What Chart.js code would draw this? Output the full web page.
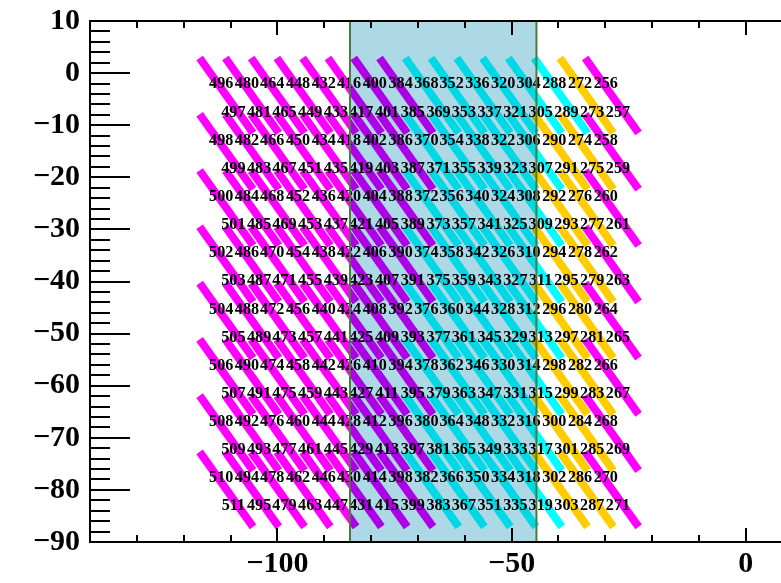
<!DOCTYPE html>
<html>
<head>
<meta charset="utf-8">
<script src="https://cdn.jsdelivr.net/npm/chart.js@4.4.0/dist/chart.umd.min.js"></script>
<style>
  html, body { margin: 0; padding: 0; background: #fff; }
  canvas { display: block; }
</style>
</head>
<body>
<canvas id="myChart" width="781" height="583"></canvas>
<script>
// channel ids: first (top) id of every column, the id grows by one per label row
const colFirstId = [496, 480, 464, 448, 432, 416, 400, 384, 368, 352, 336, 320, 304, 288, 272, 256];
const rowStep = [0, 1, 2, 3, 4, 5, 6, 7, 8, 9, 10, 11, 12, 13, 14, 15];

// label centres
const labelRowY = [-2.1, -7.5, -12.9, -18.3, -23.7, -29.1, -34.5, -39.9, -45.3, -50.7, -56.1, -61.5, -66.9, -72.3, -77.7, -83.1];
const labelXEven = [-112.0, -106.5, -101.1, -95.6, -90.1, -84.7, -79.2, -73.7, -68.2, -62.8, -57.3, -51.8, -46.4, -40.9, -35.4, -29.9];
const labelXOdd = [-109.4, -103.9, -98.5, -93.0, -87.5, -82.1, -76.6, -71.1, -65.6, -60.2, -54.7, -49.2, -43.8, -38.3, -32.8, -27.3];

// strips: upper-left start point, all strips have the same direction/length
const segStartX = [-116.6, -111.1, -105.6, -100.1, -94.6, -89.2, -83.7, -78.2, -72.7, -67.2, -61.7, -56.2, -50.7, -45.2, -39.7, -34.3];
const segStartY = [2.9, -7.9, -18.7, -29.5, -40.3, -51.1, -61.9, -72.7];
const segDX = 11.4;
const segDY = -14.4;
const segColors = [
  "mmmmmmmmccccccom",
  "mmmmmmmmcccccoom",
  "mmmmmmmmcccccoom",
  "mmmmmmmmcccccoom",
  "mmmmmmmmcccccoom",
  "mmmmmmmmcccccoom",
  "mmmmmmmmcccccoom",
  "mmmmmmmmcccccoom"
];
const palette = { m: "#ff00ff", c: "#00ffff", o: "#ffcc00" };

// highlighted region
const boxX = [-84.5, -44.7];

// axes
const xMajor = [-100, -50, 0];
const xMinor = [-130, -120, -110, -90, -80, -70, -60, -40, -30, -20, -10];
const yMajor = [10, 0, -10, -20, -30, -40, -50, -60, -70, -80, -90];
const yMinor = [8, 6, 4, 2, -2, -4, -6, -8, -12, -14, -16, -18, -22, -24, -26, -28,
  -32, -34, -36, -38, -42, -44, -46, -48, -52, -54, -56, -58, -62, -64, -66, -68,
  -72, -74, -76, -78, -82, -84, -86, -88];

const datasets = [];
segStartY.forEach((sy, r) => {
  segStartX.forEach((sx, c) => {
    datasets.push({
      data: [{ x: sx, y: sy }, { x: sx + segDX, y: sy + segDY }],
      showLine: true,
      borderColor: palette[segColors[r][c]],
      borderWidth: 8,
      borderCapStyle: "butt",
      pointRadius: 0,
      pointHoverRadius: 0,
    });
  });
});

const overlay = {
  id: "overlay",
  beforeDraw(chart) {
    const ctx = chart.ctx;
    ctx.save();
    ctx.fillStyle = "#fff";
    ctx.fillRect(0, 0, chart.width, chart.height);
    ctx.restore();
  },
  afterDatasetsDraw(chart) {
    const { ctx, chartArea: a, scales: { x, y } } = chart;
    ctx.save();
    ctx.font = 'bold 17px "Liberation Serif"';
    ctx.fillStyle = "#000";
    ctx.textAlign = "center";
    ctx.textBaseline = "middle";
    labelRowY.forEach((ly, r) => {
      const xs = r % 2 ? labelXOdd : labelXEven;
      xs.forEach((lx, c) => {
        ctx.save();
        ctx.translate(x.getPixelForValue(lx), y.getPixelForValue(ly));
        ctx.scale(0.95, 1);
        ctx.fillText(String(colFirstId[c] + rowStep[r]), 0, 0);
        ctx.restore();
      });
    });
    const bx0 = x.getPixelForValue(boxX[0]);
    const bx1 = x.getPixelForValue(boxX[1]);
    ctx.globalCompositeOperation = "multiply";
    ctx.fillStyle = "#add8e6";
    ctx.fillRect(bx0, a.top, bx1 - bx0, a.bottom - a.top);
    ctx.globalCompositeOperation = "source-over";
    ctx.strokeStyle = "#4a7c3c";
    ctx.lineWidth = 2;
    ctx.strokeRect(bx0, a.top, bx1 - bx0, a.bottom - a.top);
    ctx.restore();
  },
  afterDraw(chart) {
    const { ctx, chartArea: a, scales: { x, y } } = chart;
    ctx.save();
    ctx.strokeStyle = "#000";
    ctx.lineWidth = 2;
    ctx.beginPath();
    ctx.moveTo(a.right, a.top);
    ctx.lineTo(a.left, a.top);
    ctx.lineTo(a.left, a.bottom);
    ctx.lineTo(a.right, a.bottom);
    ctx.stroke();
    ctx.beginPath();
    yMajor.forEach((v) => {
      const p = Math.round(y.getPixelForValue(v));
      ctx.moveTo(a.left, p);
      ctx.lineTo(a.left + 40, p);
    });
    yMinor.forEach((v) => {
      const p = Math.round(y.getPixelForValue(v));
      ctx.moveTo(a.left, p);
      ctx.lineTo(a.left + 20, p);
    });
    xMajor.forEach((v) => {
      const p = Math.round(x.getPixelForValue(v));
      ctx.moveTo(p, a.bottom);
      ctx.lineTo(p, a.bottom - 14);
      ctx.moveTo(p, a.top);
      ctx.lineTo(p, a.top + 14);
    });
    xMinor.forEach((v) => {
      const p = Math.round(x.getPixelForValue(v));
      ctx.moveTo(p, a.bottom);
      ctx.lineTo(p, a.bottom - 7);
      ctx.moveTo(p, a.top);
      ctx.lineTo(p, a.top + 7);
    });
    ctx.stroke();
    ctx.restore();
  },
};

const tickFont = { family: '"Liberation Serif", "Times New Roman", serif', size: 30, weight: "bold" };
const minus = (v) => String(v).replace("-", "\u2212");

const ctx = document.getElementById("myChart").getContext("2d");
new Chart(ctx, {
  type: "scatter",
  data: { datasets: datasets },
  options: {
    responsive: false,
    animation: false,
    layout: { padding: { top: 21, right: 0, left: 0, bottom: 0 } },
    plugins: { legend: { display: false }, tooltip: { enabled: false } },
    events: [],
    scales: {
      x: {
        type: "linear",
        min: -140,
        max: 7.5,
        grid: { display: false, drawTicks: false },
        border: { display: false },
        afterBuildTicks: (s) => { s.ticks = xMajor.map((v) => ({ value: v })); },
        afterFit: (s) => { s.height = 41; s.paddingLeft = 0; s.paddingRight = 0; },
        ticks: { font: tickFont, color: "#000", padding: 4, maxRotation: 0, autoSkip: false, callback: minus },
      },
      y: {
        type: "linear",
        min: -90,
        max: 10,
        grid: { display: false, drawTicks: false },
        border: { display: false },
        afterBuildTicks: (s) => { s.ticks = yMajor.map((v) => ({ value: v })); },
        afterFit: (s) => { s.width = 90; s.paddingTop = 0; s.paddingBottom = 0; },
        ticks: { font: tickFont, color: "#000", padding: 10, autoSkip: false, callback: minus },
      },
    },
  },
  plugins: [overlay],
});
</script>
</body>
</html>
